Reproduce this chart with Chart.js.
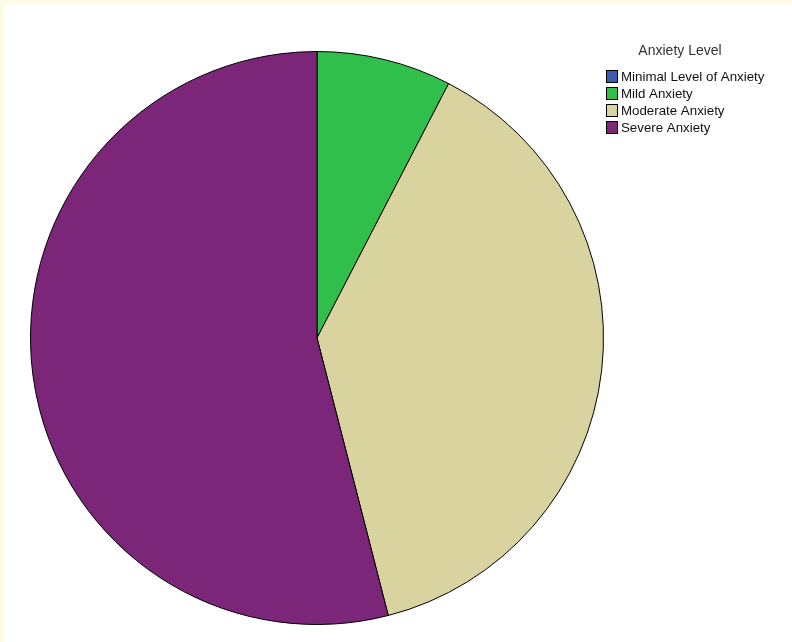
<!DOCTYPE html>
<html>
<head>
<meta charset="utf-8">
<script src="https://cdn.jsdelivr.net/npm/chart.js@4"></script>
<style>
    html, body { margin: 0; padding: 0; background: #ffffff; }
    body { width: 792px; height: 642px; overflow: hidden; box-sizing: border-box;
           border-top: 3px solid #fdfbe6; border-left: 3px solid #fdfbe6; }
    #wrap { position: absolute; left: 0; top: 0; width: 792px; height: 642px; }
</style>
</head>
<body>
<div id="wrap"><canvas id="chart"></canvas></div>
<script>
// ===== DATA =====
const legendTitle = 'Anxiety Level';
const categories = ['Minimal Level of Anxiety', 'Mild Anxiety', 'Moderate Anxiety', 'Severe Anxiety'];
const percentages = [0, 7.6, 38.4, 54.0];
const sliceColors = ['#3d5bb3', '#2fbf4a', '#d8d39f', '#7b2679'];

const fontFamily = "'Liberation Sans', Arial, sans-serif";

// Draws the SPSS-style legend box to the right of the pie
const sideLegend = {
    id: 'sideLegend',
    afterDraw(chart) {
        const ctx = chart.ctx;
        const colors = chart.data.datasets[0].backgroundColor;
        ctx.save();
        ctx.fillStyle = '#333333';
        ctx.font = '14px ' + fontFamily;
        ctx.textAlign = 'center';
        ctx.textBaseline = 'middle';
        ctx.fillText(legendTitle, 680, 51);

        ctx.font = '13.3px ' + fontFamily;
        ctx.textAlign = 'left';
        chart.data.labels.forEach((label, i) => {
            const y = 76 + i * 17;
            ctx.fillStyle = colors[i];
            ctx.fillRect(606, y - 6, 11, 12);
            ctx.strokeStyle = '#000000';
            ctx.lineWidth = 1;
            ctx.strokeRect(606.5, y - 5.5, 11, 12);
            ctx.fillStyle = '#111111';
            ctx.fillText(label, 621, y + 1);
        });
        ctx.restore();
    }
};

new Chart(document.getElementById('chart'), {
    type: 'pie',
    data: {
        labels: categories,
        datasets: [{
            data: percentages,
            backgroundColor: sliceColors,
            borderColor: '#000000',
            borderWidth: 1
        }]
    },
    options: {
        responsive: true,
        maintainAspectRatio: false,
        animation: { duration: 0 },
        layout: { padding: { left: 30, right: 188, top: 51, bottom: 17 } },
        plugins: {
            legend: { display: false },
            tooltip: { enabled: false }
        }
    },
    plugins: [sideLegend]
});
</script>
</body>
</html>
